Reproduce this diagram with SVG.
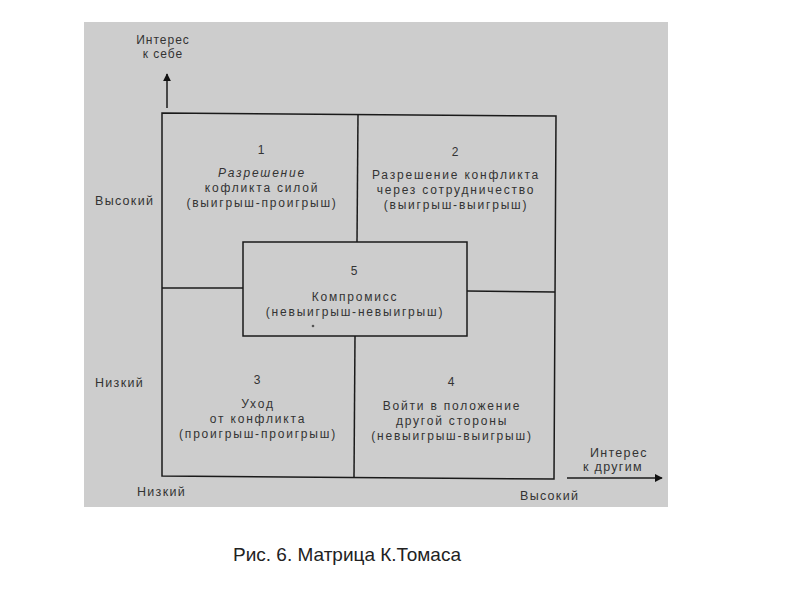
<svg xmlns="http://www.w3.org/2000/svg" width="800" height="600" viewBox="0 0 800 600">
<defs>
<style>
.t{font-family:"Liberation Sans",Arial,sans-serif;font-size:12px;fill:#333;text-anchor:middle;letter-spacing:1.8px}
.a{font-family:"Liberation Sans",Arial,sans-serif;font-size:12px;fill:#333;text-anchor:middle;letter-spacing:1px}
.l{font-family:"Liberation Sans",Arial,sans-serif;font-size:12.5px;fill:#333;letter-spacing:1.3px}
.ln{stroke:#1a1a1a;stroke-width:1.5;fill:none}
</style>
<marker id="ah" viewBox="0 0 10 10" refX="9" refY="5" markerWidth="8" markerHeight="8" orient="auto" markerUnits="userSpaceOnUse">
<path d="M0,0 L10,5 L0,10 z" fill="#111"/>
</marker>
</defs>
<rect width="800" height="600" fill="#fff"/>
<rect x="84" y="22" width="584" height="485" fill="#cdcdcd"/>
<g id="matrix">
<path class="ln" d="M162,113 L556,116 L554,479 L162,476 Z"/>
<path class="ln" d="M358,114 L357,242"/>
<path class="ln" d="M355,336 L354,477"/>
<path class="ln" d="M162,288 L243,288"/>
<path class="ln" d="M467,291 L555,292"/>
</g>
<g id="cell1">
<text class="t" x="262" y="154">1</text>
<text class="t" x="262" y="177" font-style="italic">Разрешение</text>
<text class="t" x="262" y="192">кофликта силой</text>
<text class="t" x="262" y="207">(выигрыш-проигрыш)</text>
</g>
<g id="cell2">
<text class="t" x="456" y="156">2</text>
<text class="t" x="456" y="179">Разрешение конфликта</text>
<text class="t" x="456" y="194">через сотрудничество</text>
<text class="t" x="456" y="209">(выигрыш-выигрыш)</text>
</g>
<g id="cell3">
<text class="t" x="258" y="384">3</text>
<text class="t" x="258" y="408">Уход</text>
<text class="t" x="258" y="423">от конфликта</text>
<text class="t" x="258" y="438">(проигрыш-проигрыш)</text>
</g>
<g id="cell4">
<text class="t" x="452" y="386">4</text>
<text class="t" x="452" y="410">Войти в положение</text>
<text class="t" x="452" y="425">другой стороны</text>
<text class="t" x="452" y="440">(невыигрыш-выигрыш)</text>
</g>
<g id="cell5">
<rect class="ln" x="243" y="242" width="224" height="94" fill="#cdcdcd"/>
<text class="t" x="355" y="275">5</text>
<text class="t" x="355" y="301">Компромисс</text>
<text class="t" x="355" y="316">(невыигрыш-невыигрыш)</text>
<circle cx="313" cy="326" r="1.3" fill="#555"/>
</g>
<g id="connectors">
<path class="ln" d="M167,108 L167,74" marker-end="url(#ah)"/>
<path class="ln" d="M567,478 L662,478" marker-end="url(#ah)"/>
</g>
<g id="labels">
<text class="a" x="163" y="44">Интерес</text>
<text class="a" x="163" y="58">к себе</text>
<text class="l" x="95" y="205">Высокий</text>
<text class="l" x="95" y="387">Низкий</text>
<text class="l" x="137" y="496">Низкий</text>
<text class="l" x="520" y="500">Высокий</text>
<text class="l" x="590" y="457">Интерес</text>
<text class="l" x="583" y="471">к другим</text>
</g>
<text x="233" y="561" font-family="'Liberation Sans',Arial,sans-serif" font-size="19" fill="#222">Рис. 6. Матрица К.Томаса</text>
</svg>
